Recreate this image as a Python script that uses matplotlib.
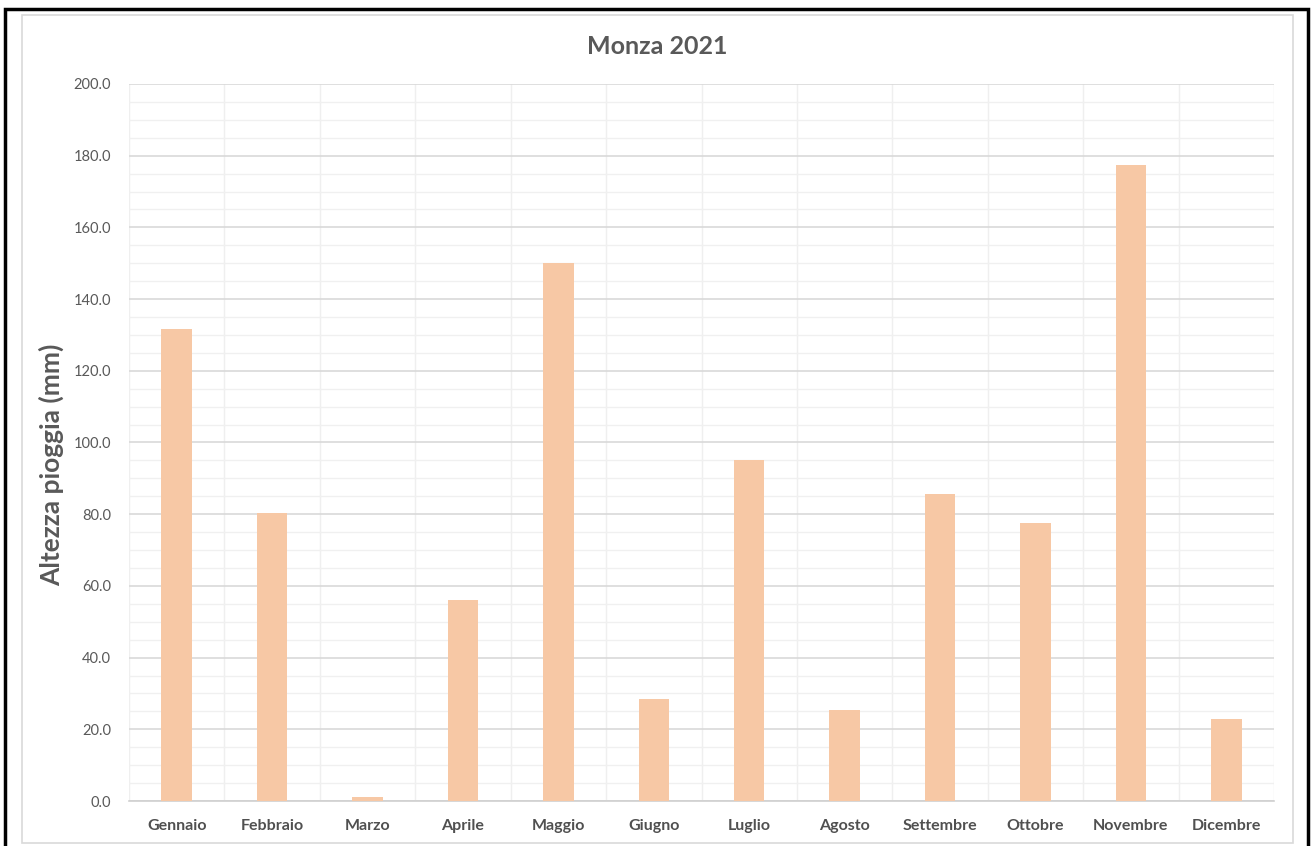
import matplotlib
matplotlib.use("Agg")
import matplotlib.pyplot as plt
from matplotlib.patches import Rectangle
from matplotlib.ticker import MultipleLocator
import numpy as np

mesi = ["Gennaio", "Febbraio", "Marzo", "Aprile", "Maggio", "Giugno",
        "Luglio", "Agosto", "Settembre", "Ottobre", "Novembre", "Dicembre"]
pioggia = [131.7, 80.4, 1.1, 56.2, 150.0, 28.5, 95.2, 25.5, 85.6, 77.5, 177.5, 23.0]

plt.rcParams['font.family'] = ['Lato', 'DejaVu Sans']

fig = plt.figure(figsize=(13.12, 8.46), dpi=100)
ax = fig.add_axes([129 / 1312, 1 - 801 / 846, (1274 - 129) / 1312, (801 - 84) / 846])

x = np.arange(len(mesi))
ax.bar(x, pioggia, width=0.32, color="#F7C8A5", zorder=3)

ax.set_xlim(-0.5, len(mesi) - 0.5)
ax.set_ylim(0, 200)
ax.yaxis.set_minor_locator(MultipleLocator(5))
ax.set_yticks(np.arange(0, 201, 20))
ax.set_yticklabels([f"{v:.1f}" for v in np.arange(0, 201, 20)], color="#595959", fontsize=10.5)
ax.set_xticks(x)
ax.set_xticklabels(mesi, fontsize=11.5, fontweight="bold", color="#505050")
ax.set_xticks(np.arange(-0.5, len(mesi), 0.5), minor=True)

# griglia: principali orizzontali più scure, secondarie chiare
ax.grid(which="major", axis="y", color="#D9D9D9", linewidth=1.2, zorder=0)
ax.grid(which="minor", axis="y", color="#F0F0F0", linewidth=1.0, zorder=0)
ax.grid(which="minor", axis="x", color="#EFEFEF", linewidth=1.0, zorder=0)
ax.tick_params(which="both", length=0)
ax.tick_params(axis="y", pad=13)
ax.tick_params(axis="x", pad=13)
for side in ["top", "right", "left"]:
    ax.spines[side].set_visible(False)
ax.spines["bottom"].set_color("#D0D0D0")
ax.spines["bottom"].set_linewidth(1.2)

ax.set_ylabel("Altezza pioggia (mm)", fontsize=19, fontweight="bold", color="#595959")
ax.yaxis.set_label_coords(-0.057, 0.469)
fig.text(657 / 1312, 1 - 47 / 846, "Monza 2021", ha="center", va="center",
         fontsize=18, fontweight="bold", color="#595959")

# cornici esterne
fig.patches.append(Rectangle((22 / 1312, 1 - 843 / 846), (1293 - 22) / 1312, (843 - 15) / 846,
                             transform=fig.transFigure, fill=False,
                             edgecolor="#D9D9D9", linewidth=1.2))
fig.patches.append(Rectangle((5 / 1312, -0.01), (1308 - 5) / 1312, 1.01 - 9 / 846,
                             transform=fig.transFigure, fill=False,
                             edgecolor="black", linewidth=2.5))

fig.savefig("out.png", dpi=100)
